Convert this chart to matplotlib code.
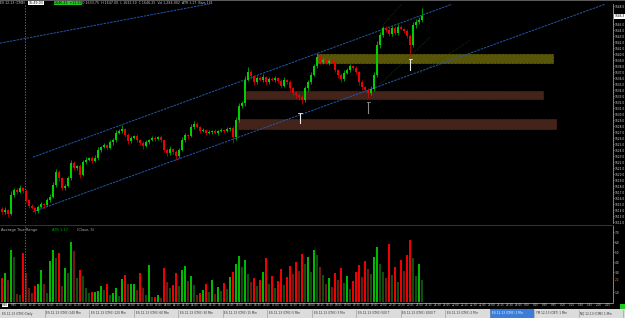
import matplotlib
matplotlib.use("Agg")
import matplotlib.pyplot as plt
import numpy as np
from matplotlib.patches import Rectangle

# ---------------- data ----------------
close = [1613.7, 1614.0, 1613.3, 1616.5, 1617.3, 1617.0, 1617.7, 1617.2, 1615.7, 1614.7,
         1614.3, 1613.8, 1614.5, 1615.0, 1614.8, 1615.7, 1616.2, 1618.2, 1620.3, 1619.3,
         1617.7, 1618.0, 1619.3, 1621.8, 1621.0, 1621.3, 1619.8, 1622.0, 1622.3, 1622.7,
         1622.2, 1622.7, 1624.0, 1624.5, 1624.8, 1624.3, 1625.3, 1625.7, 1626.8, 1627.2,
         1627.5, 1626.5, 1625.5, 1626.0, 1626.3, 1625.7, 1625.2, 1624.7, 1625.3, 1625.7,
         1626.0, 1625.8, 1626.2, 1625.7, 1624.0, 1623.5, 1624.2, 1623.7, 1623.0, 1624.0,
         1625.7, 1626.5, 1626.3, 1627.8, 1628.3, 1627.8, 1627.2, 1627.3, 1626.8, 1627.0,
         1627.2, 1626.8, 1627.2, 1627.3, 1627.2, 1627.5, 1627.7, 1626.2, 1629.0, 1631.3,
         1631.8, 1635.7, 1637.0, 1636.3, 1635.3, 1636.0, 1635.7, 1636.2, 1635.3, 1635.8,
         1635.7, 1636.0, 1635.5, 1634.7, 1635.7, 1635.3, 1634.3, 1633.5, 1633.2, 1632.8,
         1632.3, 1634.3, 1635.3, 1636.5, 1638.0, 1639.5, 1638.7, 1639.0, 1638.5, 1638.8,
         1638.7, 1637.3, 1636.5, 1635.8, 1636.8, 1637.3, 1638.0, 1637.7, 1637.0, 1635.3,
         1634.5, 1634.0, 1633.5, 1634.2, 1636.5, 1641.5, 1643.2, 1644.3, 1644.0, 1643.3,
         1644.3, 1643.5, 1644.5, 1644.2, 1643.8, 1643.0, 1641.5, 1644.8, 1645.3, 1645.7,
         1646.3]
first_open = 1614.2
wick_up = [0.3, 0.5, 0.2, 0.6, 0.4, 0.3, 0.5, 0.2, 0.3, 0.2,
           0.3, 0.2, 0.4, 0.3, 0.2, 0.3, 0.4, 0.5, 0.6, 0.3,
           0.2, 0.4, 0.3, 0.5, 0.3, 0.2, 0.4, 0.3, 0.5, 0.2,
           0.3, 0.4, 0.5, 0.2, 0.3, 0.2, 0.4, 0.3, 0.5, 0.3,
           0.6, 0.2, 0.3, 0.4, 0.2, 0.3, 0.2, 0.3, 0.4, 0.2,
           0.3, 0.4, 0.2, 0.3, 0.2, 0.3, 0.4, 0.2, 0.3, 0.4,
           0.5, 0.3, 0.2, 0.5, 0.6, 0.3, 0.2, 0.3, 0.2, 0.3,
           0.2, 0.3, 0.2, 0.4, 0.2, 0.3, 0.2, 0.3, 0.5, 0.6,
           0.4, 0.7, 0.8, 0.3, 0.2, 0.4, 0.3, 0.5, 0.2, 0.3,
           0.4, 0.3, 0.2, 0.3, 0.5, 0.2, 0.3, 0.2, 0.3, 0.2,
           0.3, 0.4, 0.3, 0.5, 0.4, 0.6, 0.3, 0.4, 0.2, 0.3,
           0.4, 0.3, 0.2, 0.3, 0.5, 0.3, 0.4, 0.2, 0.3, 0.2,
           0.3, 0.2, 0.3, 0.4, 0.5, 0.6, 0.5, 0.4, 0.3, 0.5,
           0.4, 0.3, 0.5, 0.3, 0.2, 0.4, 0.3, 0.6, 0.5, 0.4,
           1.3]
wick_dn = [0.4, 0.3, 0.5, 0.2, 0.3, 0.4, 0.2, 0.3, 0.4, 0.3,
           0.2, 0.5, 0.3, 0.2, 0.4, 0.2, 0.3, 0.2, 0.3, 0.5,
           0.4, 0.3, 0.2, 0.3, 0.4, 0.3, 0.5, 0.2, 0.3, 0.2,
           0.3, 0.2, 0.3, 0.4, 0.2, 0.3, 0.2, 0.4, 0.3, 0.2,
           0.3, 0.4, 0.5, 0.3, 0.2, 0.3, 0.4, 0.5, 0.2, 0.3,
           0.2, 0.3, 0.2, 0.3, 0.4, 0.5, 0.3, 0.4, 0.6, 0.3,
           0.2, 0.3, 0.4, 0.2, 0.3, 0.2, 0.3, 0.2, 0.3, 0.2,
           0.3, 0.2, 0.3, 0.2, 0.3, 0.2, 0.3, 1.0, 0.5, 0.4,
           0.3, 0.4, 0.2, 0.5, 0.4, 0.3, 0.2, 0.3, 0.4, 0.3,
           0.2, 0.3, 0.4, 0.3, 0.2, 0.3, 0.4, 0.3, 0.5, 0.4,
           0.6, 0.3, 0.4, 0.3, 0.2, 0.3, 0.4, 0.3, 0.2, 0.3,
           0.2, 0.3, 0.5, 0.4, 0.3, 0.2, 0.3, 0.4, 0.3, 0.4,
           0.5, 0.4, 0.8, 0.3, 0.4, 0.3, 0.5, 0.3, 0.4, 0.3,
           0.3, 0.4, 0.3, 0.2, 0.3, 0.4, 1.7, 0.3, 0.4, 0.3,
           0.3]
volume = [24, 29, 22, 52, 45, 8, 7, 49, 29, 14,
          9, 16, 18, 32, 18, 9, 41, 52, 44, 49,
          16, 34, 29, 60, 51, 24, 32, 26, 14, 9,
          10, 10, 11, 16, 12, 18, 7, 9, 14, 6,
          23, 27, 18, 18, 18, 12, 29, 14, 7, 37,
          5, 5, 7, 4, 34, 20, 14, 17, 29, 16,
          32, 36, 21, 26, 17, 7, 9, 12, 18, 10,
          22, 8, 15, 11, 19, 13, 25, 30, 38, 46,
          35, 42, 28, 20, 24, 16, 22, 30, 44, 18,
          26, 14, 21, 33, 17, 25, 36, 28, 40, 31,
          48, 38, 45, 30, 52, 47, 35, 27, 18, 24,
          15, 29, 22, 34, 19, 26, 13, 21, 30, 37,
          25, 41, 33, 28, 45, 55, 38, 30, 24, 58,
          27, 35, 20, 42, 31, 47, 62, 44, 26, 38,
          22]

# drawn objects (bar index, price)
upper_channel = [(10.3, 1622.8), (150.0, 1648.3)]
lower_channel = [(10.3, 1613.7), (201.0, 1648.3)]
top_line = [(-0.7, 1641.8), (76.0, 1649.0)]
fan_lines = [[(126.0, 1635.0), (142.7, 1642.8)],
             [(127.0, 1644.8), (134.3, 1649.0)],
             [(139.3, 1636.8), (156.0, 1642.3)]]
zones = [  # (start, end, low, high, fill, edge)
    (105.0, 183.7, 1638.5, 1640.0, "#585509", "#8c8a12"),
    (81.3, 180.3, 1632.5, 1633.8, "#44231a", "#7c2a1c"),
    (78.7, 184.7, 1627.5, 1629.2, "#44231a", "#7c2a1c"),
]
arrows = [(99.3, 1628.5, 1630.2, "#e8e8e8"),
          (122.0, 1630.2, 1632.0, "#8a8a8a"),
          (136.0, 1637.3, 1639.2, "#e8e8e8")]
cursor_bar = 7.7

price_ticks = list(np.arange(1612.0, 1649.0, 1.0))
vol_ticks = [10, 20, 30, 40, 50, 60, 70]
time_labels = ["%d:%02d" % ((570 + 15 * k) // 60 % 24, (570 + 15 * k) % 60) for k in range(68)]
tabs = ["ES 12-13 (CME) Daily", "ES 12-13 (CME) 240 Min", "ES 12-13 (CME) 120 Min",
        "ES 12-13 (CME) 60 Min", "ES 12-13 (CME) 30 Min", "ES 12-13 (CME) 15 Min",
        "ES 12-13 (CME) 5 Min", "ES 12-13 (CME) 3 Min", "ES 12-13 (CME) 500 T",
        "ES 12-13 (CME) 1000 T", "ES 12-13 (CME) 2 Min", "ES 12-13 (CME) 1 Min",
        "YM 12-13 (CBT) 1 Min", "NQ 12-13 (CME) 1 Min"]
header = "ES 12-13 (CME)"
header_box = "16:49:03"
header_green = "1646.25  +12.50"
header_rest = "O 1633.75  H 1647.00  L 1632.50  C 1646.25  Vol 1,284,902  ATR 1.17  Bars 141"

# ---------------- figure ----------------
W, H = 625, 318
fig = plt.figure(figsize=(W / 100, H / 100), dpi=100, facecolor="black")


def fx(px):
    return px / W


def fy(py):
    return 1 - py / H


def pxx(px):
    return (px - 2) / 3.0


GREEN, RED = "#00d000", "#f00000"
ax = fig.add_axes([0, fy(223), fx(613), fy(4) - fy(223)])
axv = fig.add_axes([0, fy(302), fx(613), fy(226) - fy(302)], sharex=ax)
for a in (ax, axv):
    a.set_facecolor("black")
    for s in ("top", "left", "bottom"):
        a.spines[s].set_visible(False)
    a.spines["right"].set_color("#9a9a9a")
    a.spines["right"].set_linewidth(0.6)
    a.yaxis.tick_right()
    a.tick_params(axis="y", labelsize=2.1, colors="#dcdcdc", length=0.8, width=0.4, pad=0.2)
    a.tick_params(axis="x", bottom=False, labelbottom=False)

n = len(close)
x = np.arange(n)
c = np.array(close)
o = np.array([first_open] + close[:-1])
hi = np.maximum(o, c) + np.array(wick_up)
lo = np.minimum(o, c) - np.array(wick_dn)
cols = [GREEN if c[i] >= o[i] else RED for i in range(n)]

ax.set_xlim(pxx(0), pxx(613))
ax.set_ylim(1649 - 223 / 6.0, 1649 - 4 / 6.0)

# zones
for (s, e, l, h, fc, ec) in zones:
    ax.add_patch(Rectangle((s, l), e - s, h - l, facecolor=fc, edgecolor=ec,
                           lw=0.5, ls=(0, (1, 1)), zorder=1))

# trend lines
for ln in (upper_channel, lower_channel, top_line):
    ax.plot([ln[0][0], ln[1][0]], [ln[0][1], ln[1][1]], color="#2458a8", lw=0.7,
            ls=(0, (2.5, 1)), zorder=2)
for ln in fan_lines:
    ax.plot([ln[0][0], ln[1][0]], [ln[0][1], ln[1][1]], color="#1b4d1b", lw=0.5,
            ls=(0, (1, 1.5)), zorder=2)

# candles
ax.vlines(x, lo, hi, colors=cols, lw=0.5, zorder=3)
body = np.maximum(np.abs(c - o), 0.08)
ax.bar(x, body, bottom=np.minimum(o, c), width=0.62, color=cols, lw=0, zorder=4)

# arrows
for (ax_x, y0, y1, col) in arrows:
    ax.plot([ax_x, ax_x], [y0, y1], color=col, lw=0.8, zorder=5)
    ax.plot([ax_x - 0.5, ax_x + 0.6], [y1, y1], color=col, lw=0.6, zorder=5)

ax.axvline(cursor_bar, color="#8a8a8a", lw=0.5, ls=(0, (2, 2)), zorder=2)
shown_ticks = [t for t in price_ticks if abs(t - c[-1]) > 0.8]
ax.set_yticks(shown_ticks)
ax.set_yticklabels(["%.1f" % v for v in shown_ticks])
ax.text(1.0025, c[-1], "%.1f" % c[-1], transform=ax.get_yaxis_transform(), fontsize=2.1,
        color="black", va="center", ha="left",
        bbox=dict(boxstyle="square,pad=0.12", fc="white", ec="none"), clip_on=False)

# volume
v = np.array(volume)
vcols = []
for i in range(n):
    up = c[i] >= o[i]
    bright = i == 0 or v[i] >= v[i - 1]
    if up:
        vcols.append("#00b800" if bright else "#0c500c")
    else:
        vcols.append("#f00000" if bright else "#6e1a12")
axv.bar(x, v, width=0.7, color=vcols, lw=0)
axv.axvline(cursor_bar, color="#8a8a8a", lw=0.5, ls=(0, (2, 2)))
axv.set_ylim(0, 76)
shown_v = [t for t in vol_ticks if abs(t - v[-1]) > 4]
axv.set_yticks(shown_v)
axv.set_yticklabels(["%.1f" % (t / 10) for t in shown_v])
axv.text(1.0025, v[-1], "%.1f" % (v[-1] / 10), transform=axv.get_yaxis_transform(),
         fontsize=2.1, color="#ff8c1a", va="center", ha="left", clip_on=False)
axv.text(0.002, 0.97, "Average True Range", transform=axv.transAxes, fontsize=2.6,
         color="#b0b0b0", va="top")
axv.text(0.085, 0.97, "ATR 1.17", transform=axv.transAxes, fontsize=2.6,
         color="#00a000", va="top")
axv.text(0.125, 0.97, "(Close, 5)", transform=axv.transAxes, fontsize=2.6,
         color="#b0b0b0", va="top")

# separator lines
fig.add_artist(plt.Line2D([0, fx(613)], [fy(224.5), fy(224.5)], color="#3c3c3c", lw=0.6))
fig.add_artist(plt.Line2D([0, fx(613)], [fy(302.5), fy(302.5)], color="#9a9a9a", lw=0.6))
fig.add_artist(Rectangle((0, fy(1)), 1, fy(0) - fy(1), color="#5a5a5a", lw=0))

# time axis labels
for k, lab in enumerate(time_labels):
    px = 2 + 9 * k
    if px > 606:
        break
    kw = dict(fontsize=2.0, color="#c8c8c8", ha="left", va="center")
    if k == 0:
        kw.update(color="black", bbox=dict(boxstyle="square,pad=0.1", fc="white", ec="none"))
    fig.text(fx(px), fy(305), lab, **kw)

# header
fig.text(fx(0.5), fy(3), header, fontsize=2.3, color="#c8c8c8", va="center")
fig.text(fx(28.5), fy(3), header_box, fontsize=2.3, color="black", va="center",
         bbox=dict(boxstyle="square,pad=0.15", fc="white", ec="none"))
fig.text(fx(54), fy(3), header_green, fontsize=2.3, color="black", va="center",
         bbox=dict(boxstyle="square,pad=0.15", fc="#22c822", ec="none"))
fig.text(fx(82), fy(3), header_rest, fontsize=2.3, color="#c8c8c8", va="center")

# tab bar
fig.add_artist(Rectangle((0, 0), 1, fy(309), color="#dcdcdc", lw=0))
tw = 43.5
for i, t in enumerate(tabs):
    tx = 1 + i * (tw + 1)
    if i == 11:
        fig.add_artist(Rectangle((fx(tx - 1), 0), fx(tw + 1), fy(309), color="#3b7dd8", lw=0))
        col = "white"
    else:
        col = "#303030"
    fig.text(fx(tx + 1), fy(313.5), t, fontsize=2.1, color=col, va="center", ha="left")
    fig.add_artist(plt.Line2D([fx(tx + tw)] * 2, [fy(317), fy(310)], color="#909090", lw=0.4))
fig.add_artist(Rectangle((fx(620), fy(309)), fx(5), fy(304) - fy(309), color="#22c822", lw=0))

fig.savefig("out.png", dpi=100, facecolor="black")
